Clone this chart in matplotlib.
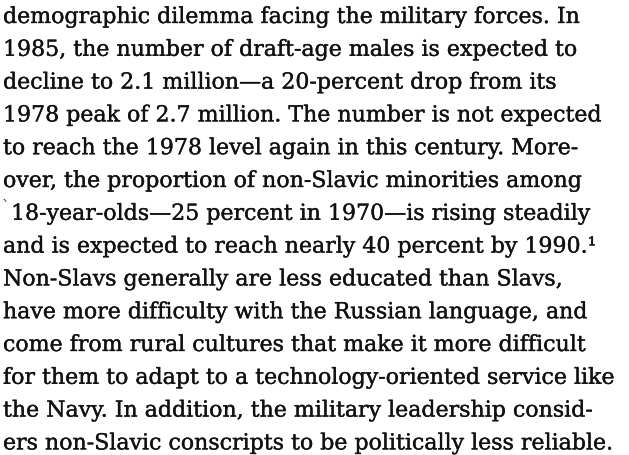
import matplotlib as mpl
mpl.use('Agg')
import matplotlib.pyplot as plt
import matplotlib.patheffects as pe

# lines of the scanned page, top to bottom
lines = [
    "demographic dilemma facing the military forces. In",
    "1985, the number of draft-age males is expected to",
    "decline to 2.1 million\u2014a 20-percent drop from its",
    "1978 peak of 2.7 million. The number is not expected",
    "to reach the 1978 level again in this century. More-",
    "over, the proportion of non-Slavic minorities among",
    "18-year-olds\u201425 percent in 1970\u2014is rising steadily",
    "and is expected to reach nearly 40 percent by 1990.\u00b9",
    "Non-Slavs generally are less educated than Slavs,",
    "have more difficulty with the Russian language, and",
    "come from rural cultures that make it more difficult",
    "for them to adapt to a technology-oriented service like",
    "the Navy. In addition, the military leadership consid-",
    "ers non-Slavic conscripts to be politically less reliable.",
]
indent = [0, 0, 0, 0, 0, 0, 8, 0, 0, 0, 0, 0, 0, 0]

W, H = 629, 456
fig = plt.figure(figsize=(W / 100, H / 100), dpi=100)
fig.patch.set_facecolor('white')

# scanned print looks a bit heavier than the plain font
ink = [pe.withStroke(linewidth=0.25, foreground='#111111')]

top = 24
step = 32.8
for i, s in enumerate(lines):
    y = H - (top + i * step)
    fig.text((3 + indent[i]) / W, y / H, s, family='DejaVu Serif',
             fontsize=15.9, color='#111111', va='baseline', ha='left',
             path_effects=ink)

# stray mark at the start of line 7
fig.text(2 / W, (H - (top + 6 * step) + 10) / H, '`', family='DejaVu Serif',
         fontsize=11, color='#333333', va='baseline', ha='left')

fig.savefig('out.png', dpi=100)
